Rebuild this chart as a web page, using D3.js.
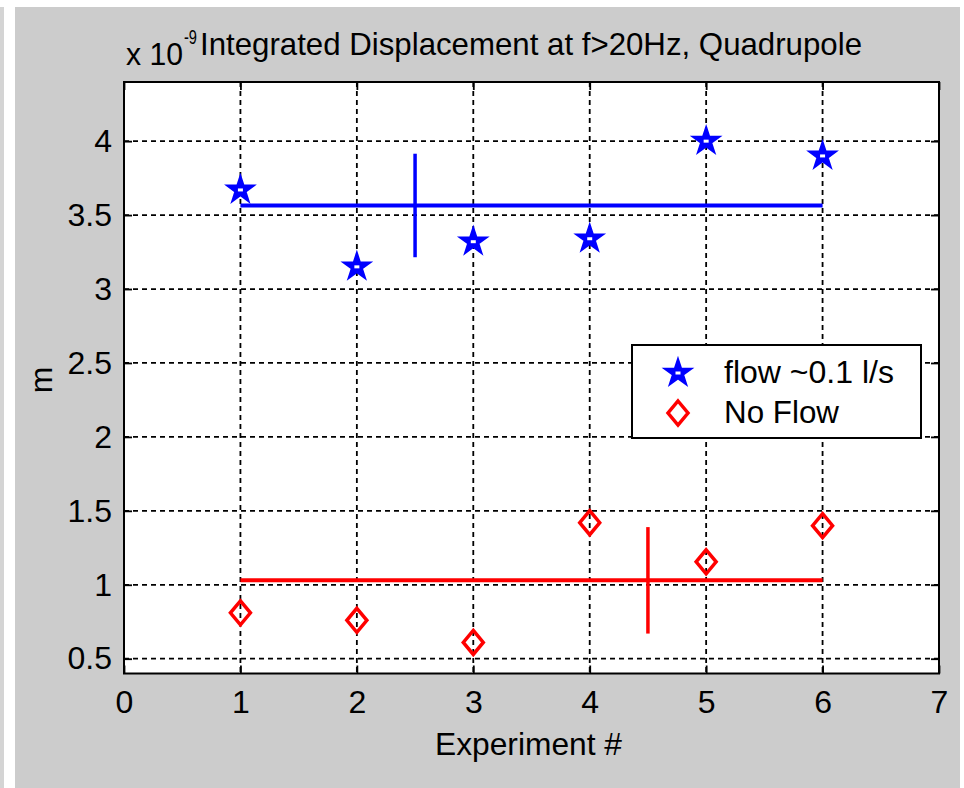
<!DOCTYPE html>
<html><head><meta charset="utf-8">
<script src="https://cdn.jsdelivr.net/npm/d3@7"></script>
<style>body{margin:0;background:#fff;} text{font-family:"Liberation Sans",Arial,sans-serif;fill:#000;}</style>
</head><body>
<svg id="c" width="964" height="788"></svg>
<script>
const experiments = [1, 2, 3, 4, 5, 6];
const flowValues = [3.67, 3.15, 3.32, 3.34, 4.00, 3.90];
const noFlowValues = [0.81, 0.76, 0.61, 1.42, 1.155, 1.40];
const flowMean = 3.565, flowStd = 0.35, flowMeanX = 2.5;
const noFlowMean = 1.03, noFlowStd = 0.36, noFlowMeanX = 4.5;
const xTicks = [0, 1, 2, 3, 4, 5, 6, 7];
const yTicks = [0.5, 1, 1.5, 2, 2.5, 3, 3.5, 4];
const seriesNames = ["flow ~0.1 l/s", "No Flow"];
const titleText = "Integrated Displacement at f>20Hz, Quadrupole";
const xLabel = "Experiment #", yLabel = "m";

const FS = "32px";
const svg = d3.select("#c");
svg.append("rect").attr("x",0).attr("y",0).attr("width",964).attr("height",788).attr("fill","#fff");
svg.append("rect").attr("x",0).attr("y",7).attr("width",4).attr("height",781).attr("fill","#d4d4d4");
svg.append("rect").attr("x",15).attr("y",7).attr("width",945).attr("height",781).attr("fill","#cccccc");

const L=124, R=939, T=82, B=673.5;
const x = d3.scaleLinear().domain([0,7]).range([L,R]);
const y = d3.scaleLinear().domain([0.4,4.4]).range([B,T]);

svg.append("rect").attr("x",L).attr("y",T).attr("width",R-L).attr("height",B-T).attr("fill","#fff");

const g = svg.append("g");
g.selectAll(".gx").data(xTicks.filter(d=>d>0&&d<7)).join("line")
 .attr("x1",d=>x(d)).attr("x2",d=>x(d)).attr("y1",T).attr("y2",B)
 .attr("stroke","#000").attr("stroke-width",1.8).attr("stroke-dasharray","5,4");
g.selectAll(".gy").data(yTicks).join("line")
 .attr("y1",d=>y(d)).attr("y2",d=>y(d)).attr("x1",L).attr("x2",R)
 .attr("stroke","#000").attr("stroke-width",1.8).attr("stroke-dasharray","5,4");

const tk = 8;
const axB = svg.append("g").attr("transform",`translate(0,${B})`).call(d3.axisBottom(x).tickValues(xTicks).tickSize(-tk).tickPadding(17).tickFormat(d3.format("d")));
const axT = svg.append("g").attr("transform",`translate(0,${T})`).call(d3.axisTop(x).tickValues(xTicks).tickSize(-tk).tickFormat(""));
const axL = svg.append("g").attr("transform",`translate(${L},0)`).call(d3.axisLeft(y).tickValues(yTicks).tickSize(-tk).tickPadding(12).tickFormat(d=>d));
const axR = svg.append("g").attr("transform",`translate(${R},0)`).call(d3.axisRight(y).tickValues(yTicks).tickSize(-tk).tickFormat(""));
[axB,axT,axL,axR].forEach(a=>{
  a.select(".domain").remove();
  a.selectAll(".tick line").attr("stroke","#000").attr("stroke-width",1.8);
  a.selectAll("text").style("font-size",FS).attr("fill","#000");
});
svg.append("rect").attr("x",L).attr("y",T).attr("width",R-L).attr("height",B-T).attr("fill","none").attr("stroke","#000").attr("stroke-width",2);

function meanLines(mean, std, mx, col){
  svg.append("line").attr("x1",x(1)).attr("x2",x(6)).attr("y1",y(mean)).attr("y2",y(mean)).attr("stroke",col).attr("stroke-width",4);
  svg.append("line").attr("x1",x(mx)).attr("x2",x(mx)).attr("y1",y(mean+std)).attr("y2",y(mean-std)).attr("stroke",col).attr("stroke-width",3.5);
}
meanLines(flowMean, flowStd, flowMeanX, "#0000ff");
meanLines(noFlowMean, noFlowStd, noFlowMeanX, "#ff0000");

const star = d3.symbol().type(d3.symbolStar).size(220);
function drawStar(cx, cy){
  svg.append("path").attr("d",star()).attr("transform",`translate(${cx},${cy})`)
    .attr("fill","#0000ff").attr("stroke","#0000ff").attr("stroke-width",2);
  svg.append("rect").attr("x",cx-2.5).attr("y",cy-1.5).attr("width",5).attr("height",3).attr("fill","#fff");
}
function drawDiamond(cx, cy){
  const w=10, h=12;
  svg.append("path").attr("d",`M${cx},${cy-h}L${cx+w},${cy}L${cx},${cy+h}L${cx-w},${cy}Z`)
    .attr("fill","none").attr("stroke","#ff0000").attr("stroke-width",3.5);
}
experiments.forEach((e,i)=>drawStar(x(e), y(flowValues[i])));
experiments.forEach((e,i)=>drawDiamond(x(e), y(noFlowValues[i])));

svg.append("rect").attr("x",632).attr("y",345).attr("width",289).attr("height",93).attr("fill","#fff").attr("stroke","#000").attr("stroke-width",2);
drawStar(678, 373);
drawDiamond(678, 413);
svg.append("text").attr("x",724).attr("y",383).style("font-size",FS).attr("textLength",170).attr("lengthAdjust","spacingAndGlyphs").text(seriesNames[0]);
svg.append("text").attr("x",724).attr("y",423).style("font-size",FS).attr("textLength",115).attr("lengthAdjust","spacingAndGlyphs").text(seriesNames[1]);

svg.append("text").attr("x",200).attr("y",55).style("font-size",FS).attr("textLength",662).attr("lengthAdjust","spacingAndGlyphs").text(titleText);
svg.append("text").attr("x",126).attr("y",65).style("font-size",FS).attr("textLength",57).attr("lengthAdjust","spacingAndGlyphs").text("x 10");
svg.append("text").attr("x",184).attr("y",44).style("font-size","20px").attr("textLength",13).attr("lengthAdjust","spacingAndGlyphs").text("-9");
svg.append("text").attr("x",435).attr("y",755).style("font-size",FS).attr("textLength",187).attr("lengthAdjust","spacingAndGlyphs").text(xLabel);
svg.append("text").attr("transform","translate(52,380) rotate(-90)").attr("text-anchor","middle").style("font-size",FS).text(yLabel);
</script>
</body></html>
